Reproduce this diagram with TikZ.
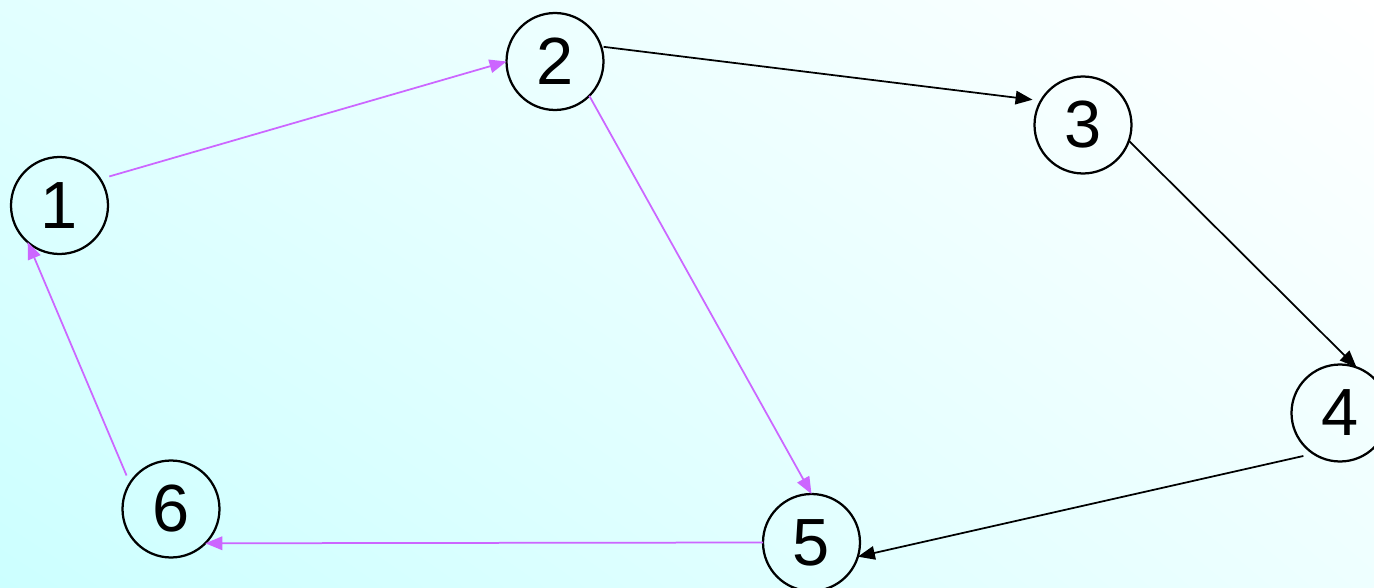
\documentclass[tikz,border=0pt]{standalone}
\usepackage{fontspec}
\setmainfont{Liberation Sans}
\usetikzlibrary{arrows.meta,shadings}
\definecolor{bgcyan}{RGB}{204,255,255}
\definecolor{bgmid}{RGB}{226,255,255}
\definecolor{bgpale}{RGB}{238,255,255}
\definecolor{edgepurple}{RGB}{204,102,255}
\begin{document}
\begin{tikzpicture}[x=0.02cm,y=-0.02cm,
  vertex/.style={draw=black,circle,line width=0.045cm,minimum size=1.94cm,inner sep=0pt,outer sep=0pt,
    font=\fontsize{38}{40}\selectfont},
  blackedge/.style={draw=black,line width=0.035cm,-{Triangle[length=0.34cm,width=0.27cm]}},
  purpleedge/.style={draw=edgepurple,line width=0.035cm,-{Triangle[length=0.34cm,width=0.27cm]}}]
\useasboundingbox (0,0) rectangle (1374,588);
\shade[lower left=bgcyan,upper left=bgmid,upper right=white,lower right=bgpale] (0,0) rectangle (1374,588);
\node[vertex] (n1) at (59.5,205.5) {1};
\node[vertex] (n2) at (555,61.5) {2};
\node[vertex] (n3) at (1083,125) {3};
\node[vertex] (n4) at (1340,413) {4};
\node[vertex] (n5) at (811.5,542.5) {5};
\node[vertex] (n6) at (171,509) {6};
\draw[purpleedge,shorten <=0.19cm] (n1.33.7) -- (n2.180);
\draw[blackedge,shorten <=0.05cm,shorten >=0.17cm] (n2.18.4) -- (n3.150);
\draw[blackedge] (n3.-19.5) -- (n4.70.8);
\draw[blackedge,shorten <=0.21cm] (n4.-123) -- (n5.-17);
\draw[purpleedge] (n2.-45) -- (n5.90);
\draw[purpleedge] (n5.180) -- (n6.-45);
\draw[purpleedge,shorten <=0.17cm] (n6.148) -- (n1.229.4);
\end{tikzpicture}
\end{document}
